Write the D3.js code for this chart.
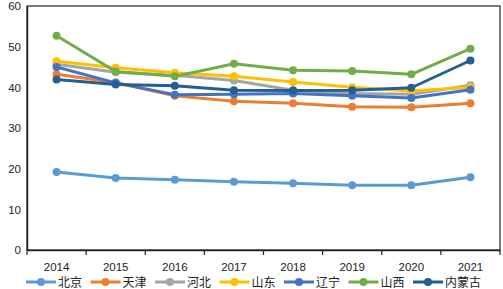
<!DOCTYPE html>
<html lang="zh">
<head>
<meta charset="UTF-8">
<title>chart</title>
<script src="https://d3js.org/d3.v7.min.js"></script>
<style>
  body { margin: 0; background: #fff; }
  text { font-family: "Liberation Sans", "Noto Sans CJK SC", sans-serif; fill: #222; }
  .legend text { font-family: "Noto Sans CJK SC", sans-serif; }
</style>
</head>
<body>
<div id="plot"></div>
<script>
// categories and values
var years = ["2014", "2015", "2016", "2017", "2018", "2019", "2020", "2021"];
var yTicks = [0, 10, 20, 30, 40, 50, 60];

var names  = ["北京", "天津", "河北", "山东", "辽宁", "山西", "内蒙古"];
var colors = ["#5B9BD5", "#ED7D31", "#A5A5A5", "#FFC000", "#4472C4", "#70AD47", "#255E91"];

var beijing   = [19.2, 17.7, 17.3, 16.8, 16.4, 15.9, 15.9, 17.9];
var tianjin   = [43.2, 41.2, 37.9, 36.6, 36.1, 35.2, 35.1, 36.1];
var hebei     = [45.7, 43.7, 43.0, 41.7, 39.3, 38.5, 38.3, 40.5];
var shandong  = [46.4, 44.8, 43.6, 42.7, 41.3, 40.0, 39.1, 40.0];
var liaoning  = [45.0, 41.1, 38.2, 38.3, 38.5, 37.9, 37.4, 39.4];
var shanxi    = [52.7, 43.9, 42.7, 45.8, 44.2, 44.0, 43.2, 49.5];
var neimenggu = [41.9, 40.7, 40.4, 39.3, 39.2, 39.3, 39.9, 46.6];

var seriesValues = [beijing, tianjin, hebei, shandong, liaoning, shanxi, neimenggu];

var width = 503, height = 289;
var pLeft = 27, pRight = 500, pTop = 6, pBottom = 250;

var svg = d3.select('#plot').append('svg')
    .attr('width', width)
    .attr('height', height);

var x = d3.scaleBand().domain(years).range([pLeft, pRight]);
var y = d3.scaleLinear().domain([0, 60]).range([pBottom, pTop]);

// plot frame
svg.append('rect')
    .attr('x', pLeft).attr('y', pTop)
    .attr('width', pRight - pLeft).attr('height', pBottom - pTop)
    .attr('fill', 'none').attr('stroke', '#222').attr('stroke-width', 1.2);

// y axis
var yAxis = svg.append('g')
    .attr('transform', 'translate(' + pLeft + ',0)')
    .call(d3.axisLeft(y).tickValues(yTicks).tickSize(0).tickPadding(6));
yAxis.select('.domain').attr('stroke', '#222').attr('stroke-width', 1.5);
yAxis.selectAll('text').style('font-size', '11.5px').attr('fill', '#222');

// x axis with ticks between categories
var xAxis = svg.append('g')
    .attr('transform', 'translate(0,' + pBottom + ')')
    .call(d3.axisBottom(x).tickSize(0).tickPadding(13));
xAxis.select('.domain').attr('stroke', '#222').attr('stroke-width', 1.5);
xAxis.selectAll('text').style('font-size', '11.5px').attr('fill', '#222');
var edges = years.map(function (d) { return x(d); }).concat([pRight]);
xAxis.selectAll('.sep').data(edges).join('line')
    .attr('class', 'sep')
    .attr('x1', d => d).attr('x2', d => d)
    .attr('y1', 0).attr('y2', 5)
    .attr('stroke', '#222').attr('stroke-width', 1.2);

var line = d3.line()
    .x((d, i) => x(years[i]) + x.bandwidth() / 2)
    .y(d => y(d));

seriesValues.forEach(function (vals, s) {
    var g = svg.append('g');
    g.append('path')
        .attr('d', line(vals))
        .attr('fill', 'none')
        .attr('stroke', colors[s])
        .attr('stroke-width', 3)
        .attr('stroke-linejoin', 'round');
    g.selectAll('circle').data(vals).join('circle')
        .attr('cx', (d, i) => x(years[i]) + x.bandwidth() / 2)
        .attr('cy', d => y(d))
        .attr('r', 4)
        .attr('fill', colors[s]);
});

// legend
var legend = svg.append('g').attr('class', 'legend');
var lx = 26, ly = 282;
names.forEach(function (n, i) {
    var g = legend.append('g').attr('transform', 'translate(' + lx + ',' + ly + ')');
    g.append('line').attr('x1', 0).attr('x2', 30).attr('y1', 0).attr('y2', 0)
        .attr('stroke', colors[i]).attr('stroke-width', 3);
    g.append('circle').attr('cx', 15).attr('cy', 0).attr('r', 4).attr('fill', colors[i]);
    g.append('text').attr('x', 32).attr('y', 4.5)
        .style('font-size', '12px').text(n);
    lx += 32 + n.length * 12 + 8.5;
});
</script>
</body>
</html>
